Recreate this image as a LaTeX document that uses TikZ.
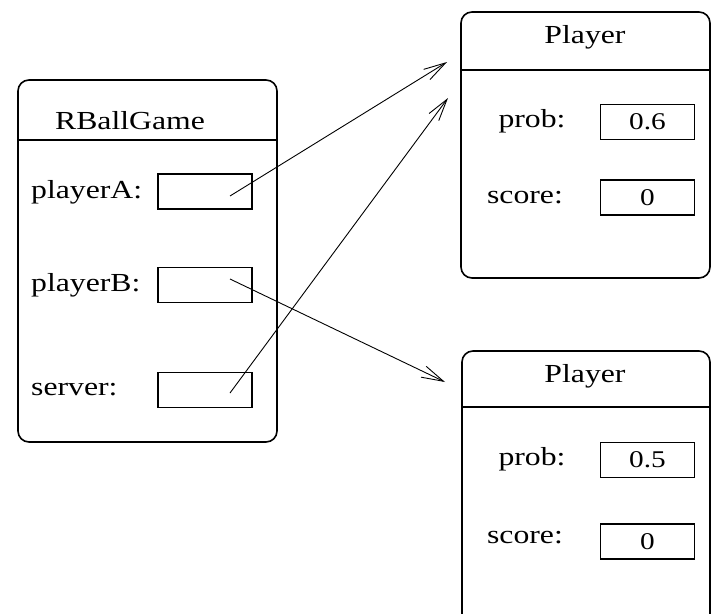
\documentclass[tikz,border=0pt]{standalone}
\usepackage{fontspec}
\setmainfont{Liberation Serif}[FakeStretch=1.22]
\usetikzlibrary{arrows.meta}
\begin{document}
\begin{tikzpicture}[x=1pt,y=-1pt,
  objbox/.style={draw,line width=1.6pt,rounded corners=11pt},
  slot/.style={draw,line width=1.6pt,minimum width=94pt,minimum height=35pt,inner sep=0pt,font=\fontsize{24}{27}\selectfont},
  lbl/.style={inner sep=0pt,font=\fontsize{26}{30}\selectfont},
  ptr/.style={line width=0.9pt,-{Straight Barb[length=22pt,width=12pt,line width=0.9pt]}}]
\useasboundingbox (0,0) rectangle (711,613);
\begin{scope}
\clip (0,0) rectangle (711,613);
% RBallGame
\draw[objbox] (18,80) rectangle (277,442);
\draw[line width=1.6pt] (18,140) -- (277,140);
\node[lbl] (rbg) at (130,121) {RBallGame};
\node[lbl,anchor=west] (la) at (31,192) {playerA:};
\node[lbl,anchor=west] (lb) at (31,285) {playerB:};
\node[lbl,anchor=west] (ls) at (31,390) {server:};
\node[slot] (sa) at (205,191.5) {};
\node[slot] (sb) at (205,285) {};
\node[slot] (ss) at (205,390) {};
% Player 1
\draw[objbox] (461,12) rectangle (710,278);
\draw[line width=1.6pt] (461,70) -- (711,70);
\node[lbl] (p1) at (585,37) {Player};
\node[lbl] (p1pl) at (532,121) {prob:};
\node[lbl] (p1sl) at (525,198) {score:};
\node[slot] (p1p) at (647.5,122) {0.6};
\node[slot] (p1s) at (647.5,197.5) {0};
% Player 2
\draw[objbox] (462,351) rectangle (710,625);
\draw[line width=1.6pt] (462,407) -- (711,407);
\node[lbl] (p2) at (585,376) {Player};
\node[lbl] (p2pl) at (532,459) {prob:};
\node[lbl] (p2sl) at (525,538) {score:};
\node[slot] (p2p) at (647.5,460) {0.5};
\node[slot] (p2s) at (647.5,541.5) {0};
\end{scope}
% pointers
\coordinate (a0) at (230,196);
\coordinate (b0) at (230,279);
\coordinate (s0) at (230,393);
\coordinate (a1) at (447,62);
\coordinate (s1) at (448,98);
\coordinate (b1) at (445,382);
\draw[ptr] (a0) -- (a1);
\draw[ptr] (s0) -- (s1);
\draw[ptr] (b0) -- (b1);
\end{tikzpicture}
\end{document}
